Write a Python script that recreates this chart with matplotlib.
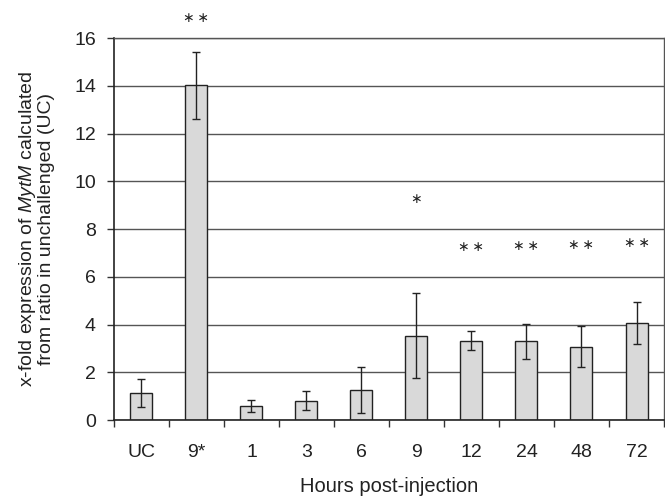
import matplotlib.pyplot as plt
import numpy as np

plt.rcParams['font.family'] = ['Liberation Sans', 'DejaVu Sans']
plt.rcParams['mathtext.fontset'] = 'custom'
plt.rcParams['mathtext.it'] = 'Liberation Sans:italic'
plt.rcParams['mathtext.rm'] = 'Liberation Sans'

# data
labels = ['UC', '9*', '1', '3', '6', '9', '12', '24', '48', '72']
means = [1.13, 14.02, 0.59, 0.80, 1.25, 3.53, 3.33, 3.30, 3.07, 4.05]
errors = [0.60, 1.40, 0.24, 0.40, 0.95, 1.78, 0.38, 0.74, 0.85, 0.88]
two = '\u2217\u2009\u2217'
stars = ['', two, '', '', '', '\u2217', two, two, two, two]
star_y = [0, 16.85, 0, 0, 0, 9.25, 7.25, 7.29, 7.35, 7.41]

fig = plt.figure(figsize=(6.65, 4.97), dpi=100)
fig.patch.set_facecolor('white')
ax = fig.add_axes([0.1714, 0.1549, 0.8271, 0.7686])

x = np.arange(len(labels))
ax.bar(x, means, width=0.4, color='#d9d9d9', edgecolor='#222222', linewidth=1.0, zorder=2)
ax.errorbar(x, means, yerr=errors, fmt='none', ecolor='#222222', elinewidth=1.0,
            capsize=3, capthick=1.0, zorder=3)

for xi, s, sy in zip(x, stars, star_y):
    if s:
        ax.text(xi, sy, s, ha='center', va='center', fontsize=10, color='#222222',
                family='DejaVu Sans', clip_on=False)

ax.set_xlim(-0.5, len(labels) - 0.5)
ax.set_ylim(0, 16)
ax.set_yticks(np.arange(0, 17, 2))
ax.yaxis.grid(True, color='#555555', linewidth=1.0, zorder=0)
ax.set_axisbelow(True)

ax.set_xticks(np.arange(-0.5, len(labels), 1.0))
ax.set_xticklabels([])
ax.set_xticks(x, minor=True)
ax.set_xticklabels(labels, minor=True)
ax.tick_params(axis='x', which='major', direction='out', length=5, width=1, color='#333333')
ax.tick_params(axis='x', which='minor', length=0, pad=17, labelsize=14, labelcolor='#222222')
ax.tick_params(axis='y', direction='out', length=5, width=1, color='#333333',
               labelsize=14, labelcolor='#222222', pad=8)

for side in ['left', 'bottom']:
    ax.spines[side].set_color('#222222')
    ax.spines[side].set_linewidth(1.2)
for side in ['top', 'right']:
    ax.spines[side].set_color('#555555')
    ax.spines[side].set_linewidth(1.0)

ax.set_xlabel('Hours post-injection', fontsize=14.5, color='#222222', labelpad=12)
ax.set_ylabel('x-fold expression of $\\it{MytM}$ calculated\nfrom ratio in unchallenged (UC)',
              fontsize=14, color='#222222', labelpad=14, linespacing=0.95)

fig.savefig('out.png', dpi=100)
